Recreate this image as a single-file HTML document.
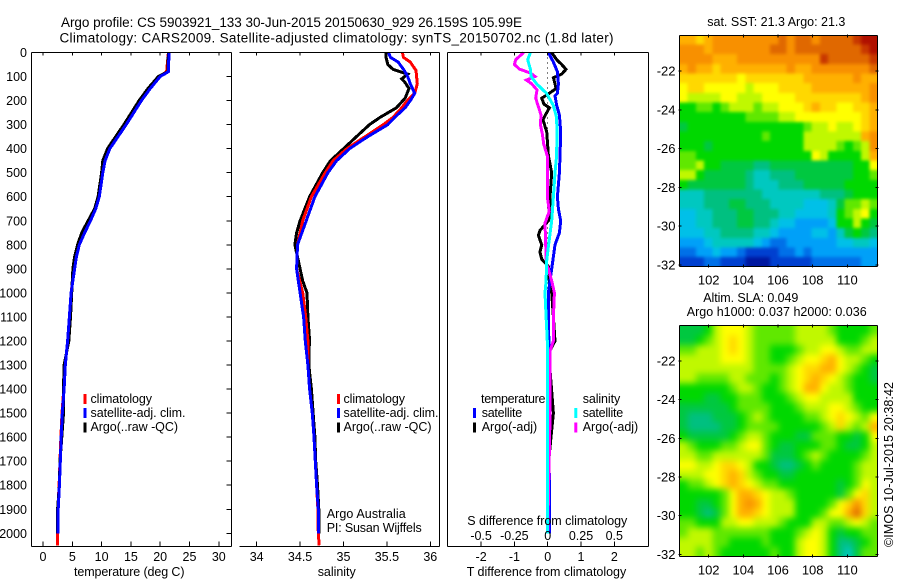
<!DOCTYPE html>
<html lang="en">
<head>
<meta charset="utf-8">
<title>Argo profile 5903921_133</title>
<style>
html,body{margin:0;padding:0;background:#fff;}
svg{display:block;}
text{font-family:"Liberation Sans",sans-serif;fill:#000;}
.t{font-size:12.5px;}
.h{font-size:13.5px;}
</style>
</head>
<body>
<svg id="fig" width="900" height="580" viewBox="0 0 900 580" xmlns="http://www.w3.org/2000/svg">
<defs>
<filter id="blurSst" x="-10%" y="-10%" width="120%" height="120%" color-interpolation-filters="sRGB"><feGaussianBlur stdDeviation="1.6"/></filter>
<filter id="blurSla" x="-10%" y="-10%" width="120%" height="120%" color-interpolation-filters="sRGB"><feGaussianBlur stdDeviation="3.4"/></filter>
<clipPath id="clipSst"><rect x="679.5" y="35.5" width="198" height="231"/></clipPath>
<clipPath id="clipSla"><rect x="679.5" y="325.5" width="198" height="231"/></clipPath>
</defs>
<rect x="0" y="0" width="900" height="580" fill="#fff"/>
<text class="h" x="61" y="27" textLength="461" lengthAdjust="spacing">Argo profile: CS 5903921_133 30-Jun-2015 20150630_929 26.159S 105.99E</text>
<text class="h" x="59.5" y="42.5" textLength="554" lengthAdjust="spacing">Climatology: CARS2009. Satellite-adjusted climatology: synTS_20150702.nc (1.8d later)</text>

<g clip-path="url(#clipSst)"><g id="mapSst" filter="url(#blurSst)"></g></g>
<g clip-path="url(#clipSla)"><g id="mapSla" filter="url(#blurSla)"></g></g>
<g id="plots"></g>
<g id="axes"></g>

<g>
<rect x="83.5" y="394" width="3" height="10" fill="#f00"/>
<rect x="83.5" y="408" width="3" height="10" fill="#00f"/>
<rect x="83.5" y="422.5" width="3" height="10" fill="#000"/>
<text class="t" x="90.5" y="403" textLength="61.5" lengthAdjust="spacing">climatology</text>
<text class="t" x="90.5" y="417" textLength="95" lengthAdjust="spacing">satellite-adj. clim.</text>
<text class="t" x="90.5" y="431" textLength="87.5" lengthAdjust="spacing">Argo(..raw -QC)</text>
</g>
<g>
<rect x="337" y="394" width="3" height="10" fill="#f00"/>
<rect x="337" y="408" width="3" height="10" fill="#00f"/>
<rect x="337" y="422.5" width="3" height="10" fill="#000"/>
<text class="t" x="343.5" y="403" textLength="61.5" lengthAdjust="spacing">climatology</text>
<text class="t" x="343.5" y="417" textLength="95" lengthAdjust="spacing">satellite-adj. clim.</text>
<text class="t" x="343.5" y="431" textLength="88" lengthAdjust="spacing">Argo(..raw -QC)</text>
<text class="t" x="326.7" y="518" textLength="79" lengthAdjust="spacing">Argo Australia</text>
<text class="t" x="326.7" y="532" textLength="95" lengthAdjust="spacing">PI: Susan Wijffels</text>
</g>
<g>
<text class="t" x="481" y="403" textLength="64.5" lengthAdjust="spacing">temperature</text>
<rect x="473" y="408" width="3" height="10" fill="#00f"/>
<rect x="473" y="422.5" width="3" height="10" fill="#000"/>
<text class="t" x="481.7" y="417" textLength="40.5" lengthAdjust="spacing">satellite</text>
<text class="t" x="481.7" y="431" textLength="55.5" lengthAdjust="spacing">Argo(-adj)</text>
<text class="t" x="582.7" y="403" textLength="37.5" lengthAdjust="spacing">salinity</text>
<rect x="574.3" y="408" width="3" height="10" fill="#0ff"/>
<rect x="574.3" y="422.5" width="3" height="10" fill="#f0f"/>
<text class="t" x="582.7" y="417" textLength="40.5" lengthAdjust="spacing">satellite</text>
<text class="t" x="582.7" y="431" textLength="55.5" lengthAdjust="spacing">Argo(-adj)</text>
</g>

<text class="t" x="74" y="576" textLength="110.5" lengthAdjust="spacing">temperature (deg C)</text>
<text class="t" x="317.7" y="576" textLength="38" lengthAdjust="spacing">salinity</text>
<text class="t" x="466.7" y="576" textLength="159.5" lengthAdjust="spacing">T difference from climatology</text>
<text class="t" x="467.3" y="525" textLength="160" lengthAdjust="spacing">S difference from climatology</text>

<text class="t" x="707.3" y="26" textLength="138" lengthAdjust="spacing">sat. SST: 21.3 Argo: 21.3</text>
<text class="t" x="703.3" y="302" textLength="95" lengthAdjust="spacing">Altim. SLA: 0.049</text>
<text class="t" x="686.7" y="316" textLength="180" lengthAdjust="spacing">Argo h1000: 0.037 h2000: 0.036</text>
<text class="t" transform="translate(893,547) rotate(-90)" x="0" y="0" textLength="165" lengthAdjust="spacing">©IMOS 10-Jul-2015 20:38:42</text>
</svg>

<script>
// ---------- profile data ----------
var tempDepths = [0,80,100,150,200,250,300,350,400,450,500,600,650,700,750,800,850,900,1000,1100,1200,1300,1400,1500,1600,1700,1800,1900,2000];
var tempSatellite = [21.5,21.4,20.0,18.3,16.8,15.5,14.2,12.8,11.4,10.6,10.2,9.6,9.0,8.1,7.1,6.2,5.7,5.4,4.8,4.5,4.2,3.8,3.6,3.3,3.1,2.95,2.8,2.6,2.6];
var tempClimDepths = [0,80,100,150,200,250,300,350,400,450,500,600,650,700,750,800,850,900,1000,1100,1200,1300,1400,1500,1600,1700,1800,1900,2000,2050];
var tempClimatology = [21.4,21.1,19.9,18.1,16.7,15.4,14.1,12.7,11.3,10.5,10.1,9.5,8.9,8.0,7.0,6.2,5.7,5.3,4.8,4.5,4.2,3.8,3.55,3.25,3.05,2.9,2.75,2.55,2.5,2.45];
var tempArgo = [21.4,21.3,19.7,17.9,16.4,15.1,13.8,12.4,11.0,10.2,10.0,9.4,8.8,7.7,6.6,5.9,5.4,5.1,4.9,4.7,4.4,3.6,3.5,3.5,3.2,2.9,2.8,2.5,2.5];

var salDepths = [0,20,40,75,100,130,170,200,230,270,300,350,400,450,500,600,700,800,900,1000,1100,1200,1300,1400,1500,1600,1700,1800,1900,2000];
var salSatellite = [35.52,35.54,35.63,35.70,35.74,35.77,35.82,35.77,35.71,35.59,35.51,35.28,35.07,34.92,34.82,34.67,34.57,34.47,34.46,34.50,34.54,34.56,34.59,34.61,34.64,34.66,34.675,34.69,34.71,34.71];
var salClimDepths = [0,20,40,75,130,170,200,230,270,300,350,400,450,500,600,700,800,900,1000,1100,1200,1300,1400,1500,1600,1700,1800,1900,2000,2050];
var salClimatology = [35.68,35.69,35.77,35.835,35.85,35.82,35.735,35.67,35.57,35.46,35.25,35.04,34.88,34.79,34.63,34.53,34.47,34.46,34.53,34.565,34.59,34.59,34.61,34.64,34.66,34.675,34.69,34.705,34.71,34.72];
var salArgoDepths = [0,20,50,70,80,90,110,125,150,190,230,270,300,350,400,420,450,500,600,700,750,800,900,950,1000,1100,1200,1250,1300,1400,1500,1600,1700,1800,1900,2000];
var salArgo = [35.49,35.49,35.51,35.57,35.65,35.74,35.67,35.71,35.755,35.71,35.61,35.42,35.30,35.15,35.00,34.94,34.85,34.76,34.61,34.50,34.46,34.44,34.50,34.53,34.58,34.59,34.61,34.60,34.60,34.63,34.65,34.67,34.68,34.70,34.715,34.72];

var diffTSatDepths = [0,40,80,130,170,180,220,260,330,430,500,600,650,700,750,800,870,950,1000,1300,2000];
var diffTSatellite = [0.02,0.17,0.29,0.32,0.29,0.22,0.27,0.35,0.39,0.37,0.35,0.29,0.32,0.39,0.35,0.22,0.15,0.07,0.02,0.04,0.05];
var diffTArgoDepths = [0,30,50,70,90,105,130,150,175,190,215,230,260,280,330,370,430,500,600,670,700,740,760,800,830,860,890,930,1000,1100,1200,1240,1250,1500,1600,1700,2000];
var diffTArgo = [0.12,0.27,0.42,0.55,0.42,0.17,0.22,0.25,-0.01,-0.18,-0.11,0.05,-0.07,-0.14,-0.03,-0.01,0.02,0.12,0.07,0.07,0.02,-0.23,-0.28,-0.18,-0.23,-0.18,0.02,0.02,0.12,0.17,0.22,0.07,0.03,0.17,0.1,0.03,0.05];
var diffSSatDepths = [0,30,70,100,130,170,220,270,340,430,500,600,700,800,870,950,1000,1100,1200,1240,2000];
var diffSSatellite = [-0.13,-0.15,-0.13,-0.125,-0.083,-0.008,0.042,0.067,0.07,0.067,0.055,0.043,0.03,0.007,-0.008,-0.012,-0.02,-0.012,-0.003,0,0];
var diffSArgoDepths = [0,30,50,70,85,100,115,130,155,190,225,260,300,340,380,430,500,600,660,710,800,880,900,950,1000,1100,1200,1240,1300,1500,2000];
var diffSArgo = [-0.18,-0.24,-0.25,-0.21,-0.13,-0.095,-0.16,-0.12,-0.08,-0.09,-0.07,-0.05,-0.055,-0.04,-0.03,-0.003,0,-0.003,0.012,-0.02,-0.015,-0.01,0.005,0.03,0.05,0.043,0.043,0.018,0.018,0.018,0];

// ---------- tick labels ----------
var depthTicks = [0,100,200,300,400,500,600,700,800,900,1000,1100,1200,1300,1400,1500,1600,1700,1800,1900,2000];
var tempTicks = [0,5,10,15,20,25,30];
var salTicks = [34,34.5,35,35.5,36];
var diffTTicks = [-2,-1,0,1,2];
var diffSTicks = [-0.5,-0.25,0,0.25,0.5];
var lonTicks = [102,104,106,108,110];
var latTicks = [-22,-24,-26,-28,-30,-32];

// ---------- map colour scale ----------
var colourSteps = ["#0018a0","#0040d0","#0070e8","#00a0f8","#00c0e8","#00c8c0","#00c080","#00c840","#00d800","#60e800","#c0f800","#ffff00","#ffd800","#ffb000","#f89000","#e06800","#c83800","#b01000"];

// SST field, values are colour-scale steps
var sstValues = [
[13,13,12,13,14,14,14,14,14,14,14,14,15,14,15,15,14,15,15,15,15,16,17,17],
[14,14,14,13,14,14,14,14,14,14,14,15,15,14,15,15,15,15,15,15,15,15,16,17],
[14,14,14,14,13,13,13,14,14,14,14,14,14,14,14,14,14,16,15,15,15,15,15,16],
[13,14,13,13,12,13,13,13,13,13,13,13,13,14,13,13,14,14,14,14,14,14,14,15],
[12,12,12,12,12,12,12,11,12,12,12,12,12,12,12,13,13,13,13,13,13,14,13,13],
[11,12,12,11,11,11,11,11,10,11,11,11,12,12,12,12,13,13,13,13,13,13,13,14],
[11,10,10,10,10,11,11,10,10,10,11,11,11,11,12,12,12,12,12,12,12,12,13,14],
[8,8,9,9,8,9,10,10,10,9,10,10,11,11,11,12,13,12,12,11,11,12,12,13],
[8,8,8,8,8,8,8,8,9,9,9,9,10,10,11,11,11,11,11,11,11,11,12,13],
[7,8,8,8,8,8,8,8,8,8,8,8,8,8,8,9,10,10,11,10,10,11,12,13],
[8,8,8,8,8,8,8,8,8,8,9,8,8,8,8,10,10,10,10,10,10,10,13,14],
[8,8,8,7,8,8,8,8,8,8,8,8,8,8,8,10,10,10,10,9,8,9,10,14],
[9,9,8,8,8,8,8,8,8,8,8,8,8,8,8,8,11,10,8,8,8,8,10,13],
[9,9,10,8,8,7,7,7,7,6,6,7,7,7,7,7,7,7,7,7,7,8,8,11],
[10,10,8,7,7,7,7,7,6,5,5,6,6,6,7,7,7,7,7,7,7,8,8,9],
[8,7,7,7,7,7,7,7,6,5,5,5,6,6,6,7,7,7,7,7,8,8,8,8],
[5,5,5,6,6,6,6,6,6,6,5,5,5,5,5,5,5,6,6,6,7,8,8,8],
[5,5,5,6,6,6,7,7,6,6,6,5,5,5,5,4,4,4,5,7,9,9,10,9],
[4,4,5,5,6,6,6,7,7,6,6,6,5,5,4,4,4,4,5,8,9,10,11,8],
[4,4,5,5,6,6,6,7,7,6,6,5,4,4,3,3,3,3,4,8,8,10,8,7],
[4,4,4,5,5,6,6,6,6,5,5,4,3,3,3,3,4,4,3,5,7,8,7,6],
[3,3,3,4,5,5,5,5,5,4,3,2,2,3,3,3,3,3,3,4,4,5,5,4],
[2,2,3,3,4,3,3,2,1,1,1,1,2,2,3,2,3,3,3,3,3,3,3,3],
[1,1,1,2,2,1,1,1,0,0,0,1,1,1,1,1,2,2,2,2,2,2,3,3]
];

// SLA field, values are colour-scale steps
var slaValues = [
[7,7,7,8,10,11,11,11,10,9,9,9,9,9,10,10,10,10,9,8,8,8,8,9],
[7,7,8,9,10,11,12,11,10,9,9,9,9,9,10,10,10,10,10,8,8,8,9,10],
[9,9,10,10,10,11,12,11,10,9,9,8,8,8,9,10,10,11,11,10,9,9,10,10],
[10,10,10,10,10,11,11,11,10,9,9,8,8,9,10,11,11,12,13,11,10,10,9,8],
[10,10,10,10,10,10,10,10,10,9,9,9,9,10,11,12,12,13,13,11,10,9,8,7],
[10,10,9,9,9,9,10,10,9,9,9,8,9,10,11,12,13,12,11,10,9,8,8,7],
[8,8,8,8,8,8,9,10,10,9,8,8,9,10,11,13,13,11,10,10,9,8,8,8],
[8,8,8,7,7,8,8,9,9,9,8,8,8,9,10,11,11,10,10,10,10,8,8,8],
[7,7,7,7,7,7,8,9,9,9,9,8,8,8,9,10,10,10,11,11,10,9,8,8],
[7,6,6,6,7,7,7,8,9,10,9,8,8,8,8,9,9,10,11,12,11,10,9,11],
[7,6,6,6,6,7,7,8,9,9,9,9,8,8,8,8,8,9,10,12,10,9,10,13],
[8,7,7,7,7,7,8,9,10,10,9,8,8,8,7,7,9,9,9,8,8,7,8,11],
[10,9,8,8,8,9,9,10,11,11,9,8,7,7,8,8,8,9,9,8,7,7,8,10],
[10,10,9,9,10,10,10,10,10,10,9,7,7,7,8,9,10,9,8,8,8,8,9,10],
[11,11,10,10,11,12,12,11,10,8,8,7,6,6,7,8,9,8,8,8,8,9,10,10],
[10,10,10,11,11,12,13,12,10,9,8,8,7,7,8,8,8,8,8,8,8,9,10,10],
[8,9,9,10,11,12,13,12,11,10,9,9,8,8,8,8,8,8,8,7,8,9,11,10],
[8,8,8,8,8,9,11,13,13,12,11,10,10,9,8,8,8,8,8,7,9,11,12,10],
[8,8,7,7,8,9,11,13,14,13,11,10,10,10,8,8,8,8,9,11,12,14,12,10],
[8,8,7,6,7,9,11,13,13,12,11,10,10,10,8,8,8,9,11,11,13,15,12,10],
[9,9,8,8,8,10,10,11,11,10,10,10,9,8,8,8,10,10,9,9,10,11,10,9],
[9,10,10,10,9,9,9,9,9,9,9,8,8,8,9,10,11,10,8,7,8,8,9,9],
[10,10,10,10,9,9,8,8,8,8,9,8,8,8,10,11,11,10,8,6,6,7,8,9],
[10,10,9,10,9,8,8,8,8,8,8,9,8,8,10,11,11,10,8,6,5,7,9,9]
];

// ---------- axis functions ----------
var NS = "http://www.w3.org/2000/svg";
var PLOT_TOP = 52.5, PLOT_BOTTOM = 546.5;
var MAP_BLEED = 14;
function yDepth(d){ return PLOT_TOP + d * 0.2404; }
function xTemp(v){ return 43 + v * 5.86; }
function xSal(v){ return 256.7 + (v - 34) * 86.8; }
function xDiffT(v){ return 547.7 + v * 33.3; }
function xDiffS(v){ return 547.7 + v * 133.2; }
function xLon(v){ return 708.7 + (v - 102) * 17.33; }
function ySstLat(v){ return 71 - (v + 22) * 19.4; }
function ySlaLat(v){ return 361 - (v + 22) * 19.33; }
var LON_MIN = 100.3, LON_MAX = 111.75;
var SST_LAT_TOP = -20.14, SST_LAT_BOTTOM = -32.09;
var SLA_LAT_TOP = -20.17, SLA_LAT_BOTTOM = -32.12;

var plots = document.getElementById("plots");
var axes = document.getElementById("axes");

function make(tag, parent, attrs){
  var el = document.createElementNS(NS, tag);
  for (var k in attrs) el.setAttribute(k, attrs[k]);
  parent.appendChild(el);
  return el;
}
function seg(name, x1, y1, x2, y2){
  var el = make("line", axes, {x1:x1, y1:y1, x2:x2, y2:y2, stroke:"#000", "stroke-width":1, "shape-rendering":"crispEdges"});
  
  
  return el;
}
function label(name, str, x, y, anchor, size){
  var el = make("text", axes, {x:x, y:y, "text-anchor":anchor, "font-size":size || 12.5});
  el.textContent = str;
  
  
  return el;
}
function series(name, xs, ys, xf, colour){
  var pts = [];
  for (var i = 0; i < xs.length; i++) pts.push(xf(xs[i]).toFixed(1) + "," + yDepth(ys[i]).toFixed(1));
  var el = make("polyline", plots, {points:pts.join(" "), fill:"none", stroke:colour, "stroke-width":3, "stroke-linejoin":"miter", "shape-rendering":"crispEdges"});
  
  
  return el;
}
function heatmap(name, parent, values, latTop, latBottom, yf){
  var rows = values.length;
  for (var r = 0; r < rows; r++){
    var cols = values[r].length;
    for (var c = 0; c < cols; c++){
      var x0 = xLon(LON_MIN + (LON_MAX - LON_MIN) * c / cols);
      var x1 = xLon(LON_MIN + (LON_MAX - LON_MIN) * (c + 1) / cols);
      var y0 = yf(latTop + (latBottom - latTop) * r / rows);
      var y1 = yf(latTop + (latBottom - latTop) * (r + 1) / rows);
      if (c === 0) x0 -= MAP_BLEED;
      if (c === cols - 1) x1 += MAP_BLEED;
      if (r === 0) y0 -= MAP_BLEED;
      if (r === rows - 1) y1 += MAP_BLEED;
      var idx = Math.max(0, Math.min(colourSteps.length - 1, Math.round(values[r][c])));
      var cell = make("rect", parent, {x:x0, y:y0, width:x1 - x0 + 0.5, height:y1 - y0 + 0.5, fill:colourSteps[idx], "shape-rendering":"crispEdges"});
      
      
    }
  }
}
function fmt(v){ return String(v); }

// ---------- maps ----------
heatmap("sst-cell", document.getElementById("mapSst"), sstValues, SST_LAT_TOP, SST_LAT_BOTTOM, ySstLat);
heatmap("sla-cell", document.getElementById("mapSla"), slaValues, SLA_LAT_TOP, SLA_LAT_BOTTOM, ySlaLat);

// ---------- series ----------
series("temperature-climatology-line", tempClimatology, tempClimDepths, xTemp, "#f00");
series("temperature-argo-line", tempArgo, tempDepths, xTemp, "#000");
series("temperature-satellite-line", tempSatellite, tempDepths, xTemp, "#00f");

series("salinity-argo-line", salArgo, salArgoDepths, xSal, "#000");
series("salinity-climatology-line", salClimatology, salClimDepths, xSal, "#f00");
series("salinity-satellite-line", salSatellite, salDepths, xSal, "#00f");

var zeroLine = make("line", plots, {x1:xDiffT(0), y1:PLOT_TOP, x2:xDiffT(0), y2:yDepth(2000), stroke:"#000", "stroke-width":1, "stroke-dasharray":"1 4", "shape-rendering":"crispEdges"});


series("t-difference-argo-line", diffTArgo, diffTArgoDepths, xDiffT, "#000");
series("t-difference-satellite-line", diffTSatellite, diffTSatDepths, xDiffT, "#00f");
series("s-difference-argo-line", diffSArgo, diffSArgoDepths, xDiffS, "#f0f");
series("s-difference-satellite-line", diffSSatellite, diffSSatDepths, xDiffS, "#0ff");

// ---------- profile frames ----------
var L1 = 31.5, R1 = 231.5, L2 = 239.5, R2 = 439.5, L3 = 447.5, R3 = 648.5;
seg("panel1-top", L1, PLOT_TOP, R1, PLOT_TOP);
seg("panel1-bottom", L1, PLOT_BOTTOM, R1, PLOT_BOTTOM);
seg("panel1-left", L1, PLOT_TOP, L1, PLOT_BOTTOM);
seg("panel1-right", R1, PLOT_TOP, R1, PLOT_BOTTOM);
seg("panel2-top", L2, PLOT_TOP, R2, PLOT_TOP);
seg("panel2-bottom", L2, PLOT_BOTTOM, R2, PLOT_BOTTOM);
seg("panel2-right", R2, PLOT_TOP, R2, PLOT_BOTTOM);
seg("panel3-top", L3, PLOT_TOP, R3, PLOT_TOP);
seg("panel3-bottom", L3, PLOT_BOTTOM, R3, PLOT_BOTTOM);
seg("panel3-left", L3, PLOT_TOP, L3, PLOT_BOTTOM);
seg("panel3-right", R3, PLOT_TOP, R3, PLOT_BOTTOM);

depthTicks.forEach(function(d){
  seg("depth-tick", R1 - 5, yDepth(d), R1, yDepth(d));
  label("depth-tick-label", fmt(d), 27, yDepth(d) + 4.5, "end");
});
tempTicks.forEach(function(v){
  seg("temperature-tick", xTemp(v), PLOT_BOTTOM - 5, xTemp(v), PLOT_BOTTOM);
  seg("temperature-tick-top", xTemp(v), PLOT_TOP, xTemp(v), PLOT_TOP + 3);
  label("temperature-tick-label", fmt(v), xTemp(v), 561, "middle");
});
salTicks.forEach(function(v){
  seg("salinity-tick", xSal(v), PLOT_BOTTOM - 5, xSal(v), PLOT_BOTTOM);
  seg("salinity-tick-top", xSal(v), PLOT_TOP, xSal(v), PLOT_TOP + 3);
  label("salinity-tick-label", fmt(v), xSal(v), 561, "middle");
});
diffTTicks.forEach(function(v){
  seg("t-difference-tick", xDiffT(v), PLOT_BOTTOM - 5, xDiffT(v), PLOT_BOTTOM);
  seg("t-difference-tick-top", xDiffT(v), PLOT_TOP, xDiffT(v), PLOT_TOP + 3);
  label("t-difference-tick-label", fmt(v), xDiffT(v), 561, "middle");
});
diffSTicks.forEach(function(v){
  label("s-difference-tick-label", fmt(v), xDiffS(v), 540, "middle");
});

// ---------- map frames ----------
function mapFrame(prefix, top, bottom, yf, labelBase){
  var left = 679.5, right = 877.5;
  seg(prefix + "-frame-top", left, top, right, top);
  seg(prefix + "-frame-bottom", left, bottom, right, bottom);
  seg(prefix + "-frame-left", left, top, left, bottom);
  seg(prefix + "-frame-right", right, top, right, bottom);
  lonTicks.forEach(function(v){
    seg(prefix + "-lon-tick", xLon(v), bottom - 2, xLon(v), bottom + 1);
    seg(prefix + "-lon-tick-top", xLon(v), top - 1, xLon(v), top + 2);
    label(prefix + "-lon-label", fmt(v), xLon(v), labelBase, "middle", 13);
  });
  latTicks.forEach(function(v){
    seg(prefix + "-lat-tick", left - 1, yf(v), left + 2, yf(v));
    seg(prefix + "-lat-tick-right", right - 2, yf(v), right + 1, yf(v));
    label(prefix + "-lat-label", fmt(v), 675.5, yf(v) + 4.5, "end", 13);
  });
}
mapFrame("sst-map", 35.5, 266.5, ySstLat, 284.5);
mapFrame("sla-map", 325.5, 556.5, ySlaLat, 574.5);
</script>
</body>
</html>
